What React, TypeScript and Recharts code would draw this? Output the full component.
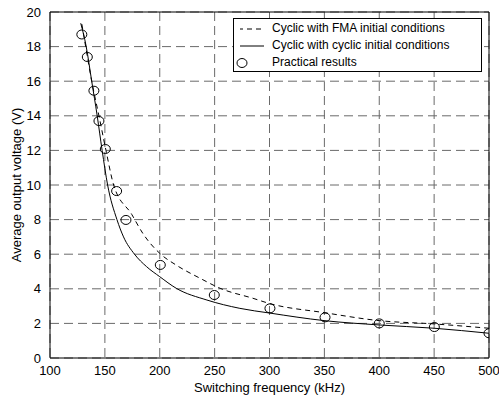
import {
  ComposedChart,
  Line,
  Scatter,
  XAxis,
  YAxis,
  CartesianGrid,
  ReferenceLine,
  Legend,
} from 'recharts';

// frequency ticks (kHz) and voltage ticks (V)
const xTicks = [100, 150, 200, 250, 300, 350, 400, 450, 500];
const yTicks = [0, 2, 4, 6, 8, 10, 12, 14, 16, 18, 20];

// Cyclic with FMA initial conditions (dashed)
const fmaCurve = [
  { x: 129, y: 19.3 },
  { x: 132.5, y: 18.0 },
  { x: 138, y: 16.0 },
  { x: 144.6, y: 14.0 },
  { x: 151, y: 12.0 },
  { x: 158, y: 10.0 },
  { x: 174.5, y: 8.3 },
  { x: 184.6, y: 7.2 },
  { x: 200, y: 6.05 },
  { x: 215, y: 5.37 },
  { x: 237, y: 4.6 },
  { x: 255, y: 4.03 },
  { x: 285, y: 3.45 },
  { x: 300, y: 3.15 },
  { x: 350, y: 2.62 },
  { x: 400, y: 2.16 },
  { x: 450, y: 1.97 },
  { x: 500, y: 1.72 },
];

// Cyclic with cyclic initial conditions (solid)
const cyclicCurve = [
  { x: 128, y: 19.35 },
  { x: 133, y: 18.0 },
  { x: 138, y: 16.0 },
  { x: 143, y: 14.0 },
  { x: 147.5, y: 12.0 },
  { x: 152.5, y: 10.0 },
  { x: 161, y: 8.0 },
  { x: 167, y: 7.0 },
  { x: 177, y: 6.0 },
  { x: 188, y: 5.28 },
  { x: 200, y: 4.7 },
  { x: 215, y: 4.03 },
  { x: 243, y: 3.35 },
  { x: 273, y: 2.87 },
  { x: 300, y: 2.6 },
  { x: 350, y: 2.16 },
  { x: 400, y: 1.91 },
  { x: 450, y: 1.72 },
  { x: 500, y: 1.43 },
];

// Practical results (circles)
const practical = [
  { x: 129, y: 18.7 },
  { x: 134, y: 17.4 },
  { x: 140, y: 15.45 },
  { x: 144.6, y: 13.7 },
  { x: 150.4, y: 12.08 },
  { x: 160.7, y: 9.65 },
  { x: 169.2, y: 7.98 },
  { x: 200.5, y: 5.38 },
  { x: 249.7, y: 3.64 },
  { x: 300.4, y: 2.87 },
  { x: 350.6, y: 2.35 },
  { x: 400, y: 2.0 },
  { x: 450.2, y: 1.79 },
  { x: 500, y: 1.43 },
];

const font = '"Liberation Sans", Arial, sans-serif';

const Circle = (props: any) => (
  <ellipse cx={props.cx} cy={props.cy} rx={5} ry={4.5} fill="none" stroke="#000" strokeWidth={1} />
);

const LegendBox = () => (
  <div
    style={{
      border: '1px solid #000',
      background: '#fff',
      fontFamily: font,
      fontSize: 12,
      lineHeight: '17px',
      padding: '1px 0 1px 0',
      color: '#000',
      boxSizing: 'border-box',
      height: 54,
    }}
  >
    {[
      { name: 'Cyclic with FMA initial conditions', kind: 'dash' },
      { name: 'Cyclic with cyclic initial conditions', kind: 'solid' },
      { name: 'Practical results', kind: 'circle' },
    ].map((item) => (
      <div key={item.name} style={{ display: 'flex', alignItems: 'center' }}>
        <svg width={38} height={12} style={{ flex: 'none' }}>
          {item.kind === 'dash' && <line x1={6} y1={6} x2={30} y2={6} stroke="#000" strokeDasharray="5 4" strokeDashoffset={-7} />}
          {item.kind === 'solid' && <line x1={6} y1={6} x2={30} y2={6} stroke="#000" />}
          {item.kind === 'circle' && <ellipse cx={8} cy={6} rx={5} ry={4.5} fill="none" stroke="#000" />}
        </svg>
        <span>{item.name}</span>
      </div>
    ))}
  </div>
);

export default function App() {
  return (
    <div style={{ position: 'absolute', left: 0, top: 0, background: '#fff' }}>
      <ComposedChart width={499} height={395} margin={{ top: 12, right: 10, left: 0, bottom: 0 }}>
        <CartesianGrid stroke="#6a6a6a" strokeDasharray="9 5" />
        <XAxis
          type="number"
          dataKey="x"
          domain={[100, 500]}
          ticks={xTicks}
          allowDataOverflow
          height={37}
          tickLine={false}
          axisLine={{ stroke: '#000' }}
          tick={{ fill: '#000', fontSize: 13, fontFamily: font }}
          tickMargin={2}
          label={{
            value: 'Switching frequency (kHz)',
            position: 'insideBottom',
            offset: 3,
            style: { fill: '#000', fontSize: 13, fontFamily: font },
          }}
        />
        <YAxis
          type="number"
          dataKey="y"
          domain={[0, 20]}
          ticks={yTicks}
          allowDataOverflow
          width={50}
          tickLine={false}
          axisLine={{ stroke: '#000' }}
          tick={{ fill: '#000', fontSize: 13, fontFamily: font }}
          tickMargin={3}
          label={{
            value: 'Average output voltage (V)',
            angle: -90,
            position: 'insideLeft',
            offset: 16,
            style: { fill: '#000', fontSize: 13, fontFamily: font, textAnchor: 'middle' },
          }}
        />
        <ReferenceLine y={20} stroke="#000" />
        <ReferenceLine x={500} stroke="#000" />
        <Line
          data={fmaCurve}
          dataKey="y"
          type="monotone"
          stroke="#000"
          strokeWidth={1}
          strokeDasharray="5 4"
          dot={false}
          isAnimationActive={false}
        />
        <Line
          data={cyclicCurve}
          dataKey="y"
          type="monotone"
          stroke="#000"
          strokeWidth={1}
          dot={false}
          isAnimationActive={false}
        />
        <Scatter data={practical} dataKey="y" shape={<Circle />} isAnimationActive={false} />
        <Legend
          layout="horizontal"
          verticalAlign="middle"
          align="center"
          content={<LegendBox />}
          wrapperStyle={{ position: 'absolute', left: 233, top: 18, width: 249 }}
        />
      </ComposedChart>
    </div>
  );
}
